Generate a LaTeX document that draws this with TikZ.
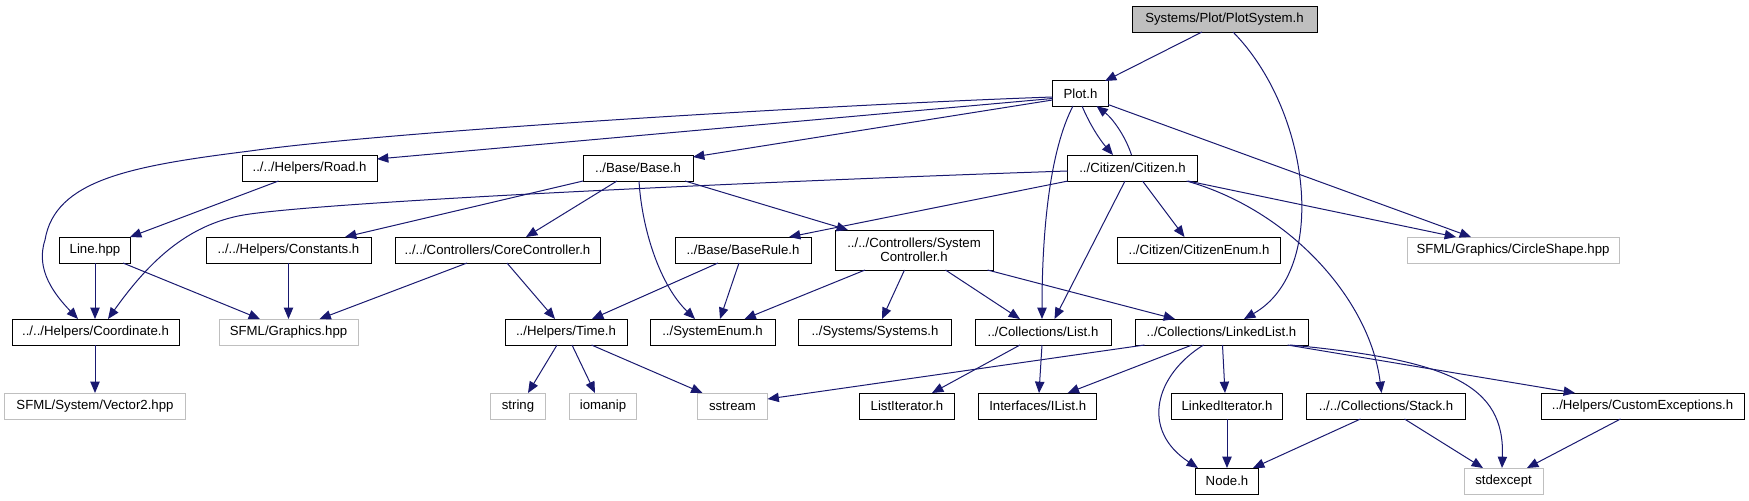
\documentclass[tikz,border=0pt]{standalone}
\usepackage{fontspec}
\setmainfont{Liberation Sans}
\usetikzlibrary{calc,arrows.meta}
\definecolor{edgec}{HTML}{191970}
\definecolor{grayb}{HTML}{BFBFBF}
\begin{document}
\begin{tikzpicture}[x=0.75pt,y=-0.75pt,
  box/.style={draw=black, line width=0.75pt, minimum height=19.5pt, inner sep=0pt,
    font=\fontsize{9.9pt}{10.8pt}\selectfont, align=center},
  gbox/.style={box, draw=grayb},
  rootbox/.style={box, fill=grayb},
  wd/.style={minimum width=#1*0.75pt},
  e/.style={draw=edgec, line width=0.75pt, -{Triangle[length=8.5pt,width=7pt]}}]
\useasboundingbox (0,0) rectangle (1749,500);
% row 1-2
\node[rootbox, wd=185] (ps) at (1224.5,19) {Systems/Plot/PlotSystem.h};
\node[box, wd=56] (plot) at (1080.5,93.5) {Plot.h};
% row 3
\node[box, wd=135] (road) at (309.5,168) {../../Helpers/Road.h};
\node[box, wd=110] (base) at (638,168) {../Base/Base.h};
\node[box, wd=130] (citizen) at (1132.5,168) {../Citizen/Citizen.h};
% row 4
\node[box, wd=71] (line) at (95,250) {Line.hpp};
\node[box, wd=165] (const) at (288.5,250) {../../Helpers/Constants.h};
\node[box, wd=205] (core) at (497.5,250) {../../Controllers/CoreController.h};
\node[box, wd=136] (baserule) at (743,250) {../Base/BaseRule.h};
\node[box, wd=158, minimum height=30pt] (sysctl) at (914,250) {../../Controllers/System\\Controller.h};
\node[box, wd=163] (citenum) at (1199,250) {../Citizen/CitizenEnum.h};
\node[gbox, wd=212] (circle) at (1513,250) {SFML/Graphics/CircleShape.hpp};
% row 5
\node[box, wd=167] (coord) at (95.5,332) {../../Helpers/Coordinate.h};
\node[gbox, wd=139] (graphics) at (288.5,332) {SFML/Graphics.hpp};
\node[box, wd=122] (time) at (566,332) {../Helpers/Time.h};
\node[box, wd=125] (sysenum) at (712.5,332) {../SystemEnum.h};
\node[box, wd=153] (systems) at (875,332) {../Systems/Systems.h};
\node[box, wd=136] (list) at (1043,332) {../Collections/List.h};
\node[box, wd=173] (llist) at (1221.5,332) {../Collections/LinkedList.h};
% row 6
\node[gbox, wd=181] (vector2) at (95,406) {SFML/System/Vector2.hpp};
\node[gbox, wd=55] (string) at (518,406) {string};
\node[gbox, wd=67] (iomanip) at (603,406) {iomanip};
\node[gbox, wd=70] (sstream) at (732.5,406) {sstream};
\node[box, wd=95] (listit) at (907,406) {ListIterator.h};
\node[box, wd=118] (ilist) at (1037.7,406) {Interfaces/IList.h};
\node[box, wd=111] (llit) at (1227,406) {LinkedIterator.h};
\node[box, wd=159] (stack) at (1386,406) {../../Collections/Stack.h};
\node[box, wd=203] (custexc) at (1642.5,406) {../Helpers/CustomExceptions.h};
% row 7
\node[box, wd=63] (node) at (1227,481) {Node.h};
\node[gbox, wd=79] (stdexc) at (1503.5,481) {stdexcept};
% edges
\draw[e] ($(ps)+(-22.5,13)$) -- ($(plot)+(24.5,-12.5)$);
\draw[e] ($(ps)+(8.5,13)$) .. controls (1310,110) and (1330,270) .. ($(llist)+(22.5,-13)$);
\draw[e] ($(plot)+(-28,3.5)$) .. controls (850,104) and (400,130) .. (250,151)
  .. controls (130,166) and (55,180) .. (45,240)
  .. controls (35,270) and (55,295) .. ($(coord)+(-17.5,-13)$);
\draw[e] ($(plot)+(-28,5)$) -- ($(road)+(67.5,-9)$);
\draw[e] ($(plot)+(-28,6.5)$) -- ($(base)+(55,-11)$);
\draw[e] ($(plot)+(1.5,12.5)$) .. controls (1090,125) and (1100,140) .. ($(citizen)+(-19.5,-13)$);
\draw[e] ($(citizen)+(-1,-13)$) .. controls (1125,135) and (1112,118) .. ($(plot)+(16,12.5)$);
\draw[e] ($(plot)+(-7.5,12.5)$) .. controls (1050,150) and (1042,230) .. ($(list)+(-1,-13)$);
\draw[e] ($(plot)+(27.5,11)$) -- ($(circle)+(-42,-13)$);
\draw[e] ($(citizen)+(55.5,13)$) -- ($(circle)+(-57,-13)$);
\draw[e] ($(citizen)+(-65,3)$) .. controls (800,180) and (350,200) .. (250,214)
  .. controls (190,222) and (150,260) .. ($(coord)+(12.5,-13)$);
\draw[e] ($(citizen)+(-64.5,13)$) -- ($(baserule)+(46,-13)$);
\draw[e] ($(citizen)+(-7.5,13)$) -- ($(list)+(11.5,-13)$);
\draw[e] ($(citizen)+(10,13)$) -- ($(citenum)+(-14.5,-13)$);
\draw[e] ($(citizen)+(54,13)$) .. controls (1290,210) and (1370,300) .. ($(stack)+(-4.5,-13)$);
\draw[e] ($(road)+(-31,13)$) -- ($(line)+(35,-13)$);
\draw[e] ($(line)+(0,13)$) -- ($(line)+(0,69)$);
\draw[e] ($(line)+(28,13)$) -- ($(graphics)+(-28.5,-13)$);
\draw[e] ($(base)+(-55,13)$) -- ($(const)+(56.5,-13)$);
\draw[e] ($(base)+(-21,13)$) -- ($(core)+(28.5,-13)$);
\draw[e] ($(base)+(1,13)$) .. controls (642,230) and (660,285) .. ($(sysenum)+(-17.5,-13)$);
\draw[e] ($(base)+(47,13)$) -- ($(sysctl)+(-66,-20)$);
\draw[e] ($(const)+(0,13)$) -- ($(graphics)+(0,-13)$);
\draw[e] ($(core)+(-30.5,13)$) -- ($(graphics)+(31,-13)$);
\draw[e] ($(core)+(9.5,13)$) -- ($(time)+(-11,-13)$);
\draw[e] ($(baserule)+(-25,13)$) -- ($(time)+(26,-13)$);
\draw[e] ($(baserule)+(-4,13)$) -- ($(sysenum)+(7.5,-13)$);
\draw[e] ($(sysctl)+(-49,20)$) -- ($(sysenum)+(32,-13)$);
\draw[e] ($(sysctl)+(-9.5,20)$) -- ($(systems)+(7,-13)$);
\draw[e] ($(sysctl)+(31.5,20)$) -- ($(list)+(-23,-13)$);
\draw[e] ($(sysctl)+(73.5,20)$) -- ($(llist)+(-46.5,-13)$);
\draw[e] ($(coord)+(-0.5,13)$) -- ($(vector2)+(0,-13)$);
\draw[e] ($(time)+(-9,13)$) -- ($(string)+(10,-13)$);
\draw[e] ($(time)+(6,13)$) -- ($(iomanip)+(-8,-13)$);
\draw[e] ($(time)+(25.5,13)$) -- ($(sstream)+(-30,-13)$);
\draw[e] ($(list)+(-23,13)$) -- ($(listit)+(25,-13)$);
\draw[e] ($(list)+(-1,13)$) -- ($(ilist)+(1.3,-13)$);
\draw[e] ($(llist)+(-77,13)$) -- ($(sstream)+(35,-7)$);
\draw[e] ($(llist)+(-29.5,13)$) -- ($(ilist)+(30,-13)$);
\draw[e] ($(llist)+(1,13)$) -- ($(llit)+(-2,-13)$);
\draw[e] ($(llist)+(-18,13)$) .. controls (1155,375) and (1140,430) .. ($(node)+(-29,-13)$);
\draw[e] ($(llist)+(68.5,13)$) .. controls (1450,360) and (1505,385) .. ($(stdexc)+(-1.5,-13)$);
\draw[e] ($(llist)+(66,13)$) -- ($(custexc)+(-67.5,-13)$);
\draw[e] ($(llit)+(0,13)$) -- ($(node)+(0,-13)$);
\draw[e] ($(stack)+(-25.5,13)$) -- ($(node)+(26,-13)$);
\draw[e] ($(stack)+(18.5,13)$) -- ($(stdexc)+(-20.5,-13)$);
\draw[e] ($(custexc)+(-22,13)$) -- ($(stdexc)+(23.5,-13)$);
\end{tikzpicture}
\end{document}
